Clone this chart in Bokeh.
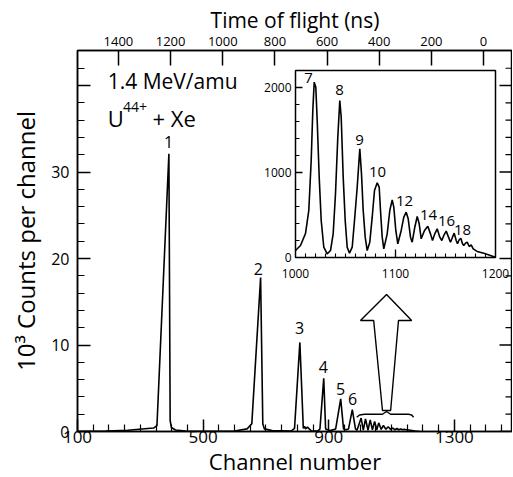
import math
from bokeh.plotting import figure
from bokeh.models import Range1d, LinearAxis, FixedTicker
from bokeh.core.properties import value
from bokeh.embed import file_html
from bokeh.resources import INLINE

FONT = "Open Sans"

# ---------------- data ----------------
# main spectrum: channel number vs 10^3 counts per channel
main_ch = [100, 190, 260, 342, 353, 391, 395, 399, 412, 444, 520, 600, 640, 655, 683, 690, 695,
           720, 780, 791, 808, 819, 823, 826, 832, 845, 865, 872, 884, 890, 905, 922, 938, 947,
           955, 963, 975, 985, 990, 1003, 1010, 1017, 1025, 1032, 1039, 1046, 1053, 1059, 1067,
           1074, 1082, 1089, 1097, 1104, 1111, 1117, 1123, 1129, 1135, 1140, 1145, 1150, 1160,
           1175, 1190]
main_k = [0.0, 0.05, 0.15, 0.40, 0.69, 32.1, 1.27, 0.46, 0.17, 0.06, 0.02, 0.05, 0.3, 0.9, 17.8,
          0.9, 0.3, 0.1, 0.05, 0.35, 10.3, 0.35, 0.6, 0.3, 0.5, 0.05, 0.05, 0.3, 6.16, 0.3, 0.1,
          0.3, 3.78, 0.3, 0.2, 0.3, 2.54, 0.3, 0.15, 1.55, 0.15, 1.45, 0.15, 1.35, 0.2, 1.15, 0.2,
          1.0, 0.25, 0.7, 0.25, 0.55, 0.25, 0.4, 0.2, 0.35, 0.2, 0.3, 0.2, 0.25, 0.2, 0.2, 0.15,
          0.05, 0.0]

# inset spectrum: channel vs counts
inset_ch = [1000, 1005, 1010, 1013.3, 1015.7, 1017.3, 1018.7, 1020.3, 1021.7, 1023.7, 1025.7,
            1028.3, 1031.7, 1035, 1037.7, 1040, 1042.3, 1044.3, 1045.7, 1047.7, 1049.7, 1051.7,
            1054, 1056.7, 1059, 1061.7, 1064.3, 1066, 1067.7, 1069.7, 1071.7, 1074.3, 1076.7,
            1079, 1081.7, 1083.7, 1085, 1086.7, 1088.3, 1091.7, 1094.3, 1096.7, 1098.3, 1100.3,
            1102.3, 1105.7, 1108.3, 1110.7, 1112.7, 1115, 1116.7, 1119.3, 1121.7, 1123.7, 1125.7,
            1129, 1132.3, 1135, 1137, 1139.3, 1141.7, 1144.3, 1146.3, 1148.3, 1150.7, 1153.3,
            1155, 1157, 1158.7, 1160.7, 1162, 1163.7, 1165.3, 1167, 1168.3, 1170, 1171.7, 1173.7,
            1175.7, 1177.7, 1181.7, 1188.3, 1195, 1200]
inset_counts = [82, 141, 282, 553, 1141, 1729, 2063, 2004, 1612, 945, 435, 121, 43, 82, 282, 750,
                1416, 1847, 1651, 945, 435, 121, 51, 121, 435, 827, 1278, 984, 553, 239, 82, 180,
                474, 788, 878, 827, 553, 239, 102, 278, 553, 678, 592, 318, 161, 318, 474, 533,
                455, 239, 180, 356, 482, 396, 220, 318, 368, 278, 200, 278, 337, 239, 200, 259,
                310, 231, 180, 239, 286, 200, 161, 208, 227, 161, 141, 169, 180, 129, 149, 102,
                71, 51, 24, 4]

# peak labels (main) : positions in data units
peak_lab = ["1", "2", "3", "4", "5", "6"]
peak_lab_x = [390, 676, 807, 883, 938, 976]
peak_lab_y = [33.5, 18.8, 12.0, 7.4, 4.86, 3.7]

# peak labels (inset)
ipeak_lab = ["7", "8", "9", "10", "12", "14", "16", "18"]
ipeak_lab_x = [1013, 1044, 1064, 1082, 1109, 1133, 1151, 1167]
ipeak_lab_y = [2106, 1965, 1388, 1000, 659, 494, 424, 318]

# axes ticks
y_major = [0, 10, 20, 30, 40]
y_minor = [2, 4, 6, 8, 12, 14, 16, 18, 22, 24, 26, 28, 32, 34, 36, 38, 42]
x_major = [100, 500, 900, 1300]
x_minor = [c for c in range(150, 1451, 50) if c not in x_major]
tof_major = [0, 200, 400, 600, 800, 1000, 1200, 1400]

# inset axes
inset_xlim = [1000, 1200]
inset_ylim = [0, 2200]
inset_y_major = [1000, 2000]
inset_y_minor = [200, 400, 600, 800, 1200, 1400, 1600, 1800]
inset_x_major = [1100]
inset_x_minor = [1010, 1020, 1030, 1040, 1050, 1060, 1070, 1080, 1090, 1110, 1120, 1130,
                 1140, 1150, 1160, 1170, 1180, 1190]
inset_y_labels = ["0", "1000", "2000"]
inset_y_label_vals = [0, 1000, 2000]
inset_x_labels = ["1000", "1100", "1200"]
inset_x_label_vals = [1000, 1100, 1200]

# big hollow arrow and brace (data units of the main plot)
arrow_x = [1084, 1164, 1122, 1097, 1071, 1043, 1001]
arrow_y = [15.84, 12.83, 12.83, 2.43, 2.43, 12.83, 12.83]
brace_x = [989, 998, 1014, 1071, 1084, 1097, 1154, 1164, 1170]
brace_y = [1.65, 1.91, 1.99, 1.99, 2.31, 1.99, 1.99, 1.91, 1.65]

# ---------------- figure ----------------
X0, X1 = 100, 1485
Y0, Y1 = 0, 44.05

p = figure(frame_width=435, frame_height=381,
           min_border_left=77, min_border_right=0, min_border_top=50, min_border_bottom=46,
           x_range=Range1d(X0, X1), y_range=Range1d(Y0, Y1),
           x_axis_location=None, y_axis_location=None,
           output_backend="svg", toolbar_location=None)
p.grid.visible = False
p.outline_line_color = "black"
p.outline_line_width = 1.5
p.background_fill_color = "white"
p.border_fill_color = "white"

p.extra_x_ranges = {"tof": Range1d(1557, -111), "ix": Range1d(782, 1217)}
p.extra_y_ranges = {"iy": Range1d(-2047, 2435)}


def style_axis(ax, lab_size, title_size):
    ax.axis_line_width = 1.5
    ax.major_tick_line_width = 1.5
    ax.minor_tick_line_width = 1.2
    ax.major_tick_out = 0
    ax.minor_tick_out = 0
    ax.major_label_text_font = FONT
    ax.major_label_text_font_size = lab_size
    ax.major_label_text_color = "black"
    ax.axis_label_text_font = FONT
    ax.axis_label_text_font_size = title_size
    ax.axis_label_text_font_style = "normal"
    ax.axis_label_text_color = "black"


left = LinearAxis(ticker=FixedTicker(ticks=y_major, minor_ticks=y_minor),
                  major_label_overrides={40: ""}, axis_label="10³ Counts per channel")
style_axis(left, "16px", "24px")
left.major_tick_in = 13
left.minor_tick_in = 7
left.major_label_standoff = 8
left.axis_label_standoff = 6
p.add_layout(left, "left")

bottom = LinearAxis(ticker=FixedTicker(ticks=x_major, minor_ticks=x_minor),
                    axis_label="Channel number")
style_axis(bottom, "17px", "22px")
bottom.major_tick_in = 12
bottom.minor_tick_in = 7
bottom.major_label_standoff = -1
bottom.axis_label_standoff = 0
p.add_layout(bottom, "below")

top = LinearAxis(x_range_name="tof", ticker=FixedTicker(ticks=tof_major, minor_ticks=[]),
                 axis_label="Time of flight (ns)")
style_axis(top, "13px", "21px")
top.major_tick_in = 15
top.minor_tick_in = 0
top.major_label_standoff = 5
top.axis_label_standoff = 0
p.add_layout(top, "above")

# right-side inward ticks
p.ray(x=[X1] * len(y_major), y=y_major, length=13, angle=math.pi, length_units="screen",
      line_color="black", line_width=1.5)
p.ray(x=[X1] * len(y_minor), y=y_minor, length=7, angle=math.pi, length_units="screen",
      line_color="black", line_width=1.2)

# main spectrum
p.line(main_ch, main_k, line_color="black", line_width=1.6)

# peak labels
p.text(peak_lab_x, peak_lab_y, text=peak_lab, text_font=value(FONT), text_font_size="16px",
       text_align="center", text_baseline="middle", text_color="black")

# annotation text
p.text([196], [40.47], text=["1.4 MeV/amu"], text_font=value(FONT), text_font_size="21px",
       text_align="left", text_baseline="middle", text_color="black")
p.text([196], [36.2], text=["U"], text_font=value(FONT), text_font_size="22px",
       text_align="left", text_baseline="middle", text_color="black")
p.text([245], [37.5], text=["44+"], text_font=value(FONT), text_font_size="14px",
       text_align="left", text_baseline="middle", text_color="black")
p.text([339], [36.2], text=["+ Xe"], text_font=value(FONT), text_font_size="22px",
       text_align="left", text_baseline="middle", text_color="black")

# arrow and brace
p.patch(arrow_x, arrow_y, fill_color=None, line_color="black", line_width=1.4)
p.line(brace_x, brace_y, line_color="black", line_width=1.4)

# ---------------- inset ----------------
p.quad(left=[inset_xlim[0]], right=[inset_xlim[1]], bottom=[inset_ylim[0]], top=[inset_ylim[1]],
       fill_color="white", line_color="black", line_width=1.5,
       x_range_name="ix", y_range_name="iy")
p.line(inset_ch, inset_counts, line_color="black", line_width=1.6,
       x_range_name="ix", y_range_name="iy")
p.ray(x=[inset_xlim[0]] * len(inset_y_major), y=inset_y_major, length=7, angle=0,
      length_units="screen", line_color="black", line_width=1.3,
      x_range_name="ix", y_range_name="iy")
p.ray(x=[inset_xlim[0]] * len(inset_y_minor), y=inset_y_minor, length=4, angle=0,
      length_units="screen", line_color="black", line_width=1.1,
      x_range_name="ix", y_range_name="iy")
p.ray(x=inset_x_major, y=[inset_ylim[0]] * len(inset_x_major), length=8, angle=math.pi / 2,
      length_units="screen", line_color="black", line_width=1.3,
      x_range_name="ix", y_range_name="iy")
p.ray(x=inset_x_minor, y=[inset_ylim[0]] * len(inset_x_minor), length=4, angle=math.pi / 2,
      length_units="screen", line_color="black", line_width=1.1,
      x_range_name="ix", y_range_name="iy")
p.text([inset_xlim[0]] * 3, inset_y_label_vals, text=inset_y_labels, x_offset=-4,
       text_font=value(FONT), text_font_size="12px", text_align="right",
       text_baseline="middle", text_color="black", x_range_name="ix", y_range_name="iy")
p.text(inset_x_label_vals, [inset_ylim[0]] * 3, text=inset_x_labels, y_offset=16,
       text_font=value(FONT), text_font_size="12px", text_align="center",
       text_baseline="middle", text_color="black", x_range_name="ix", y_range_name="iy")
p.text(ipeak_lab_x, ipeak_lab_y, text=ipeak_lab, text_font=value(FONT), text_font_size="15px",
       text_align="center", text_baseline="middle", text_color="black",
       x_range_name="ix", y_range_name="iy")

open("out.html", "w").write(file_html(p, INLINE))
